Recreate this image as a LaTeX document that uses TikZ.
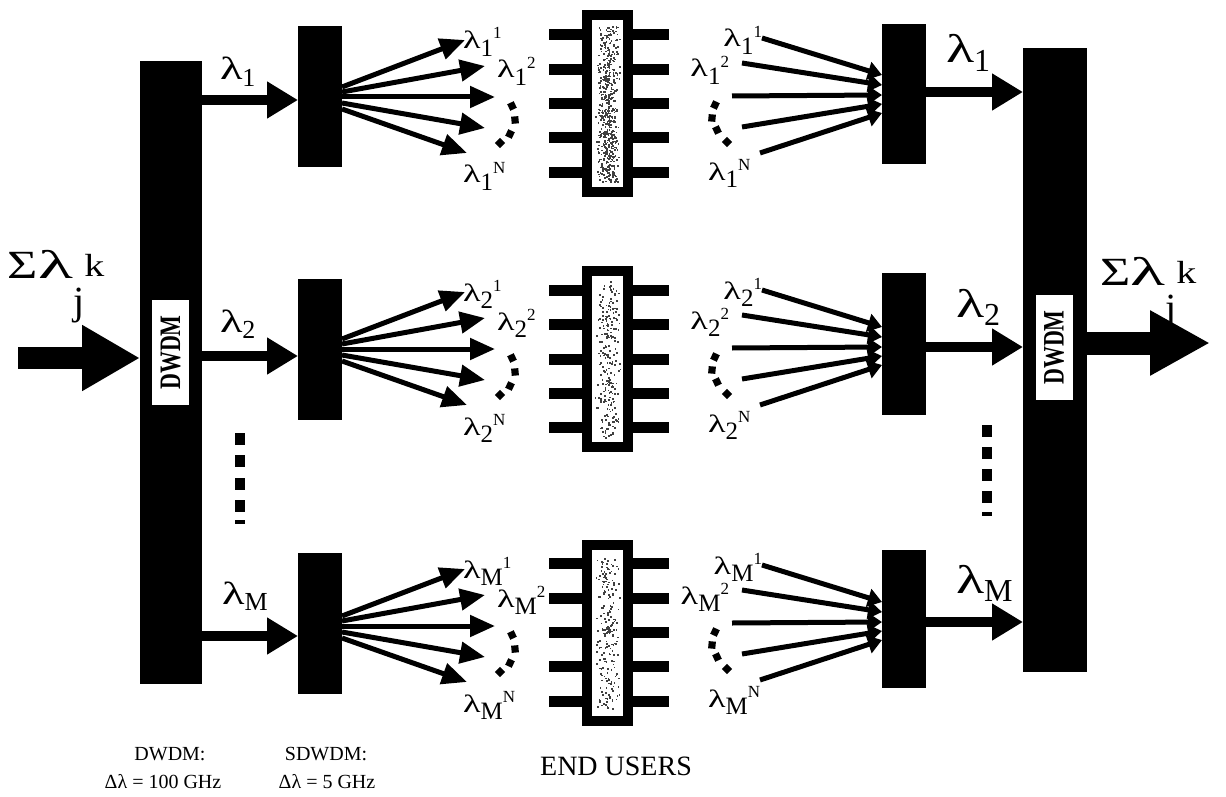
\documentclass[tikz,border=0pt]{standalone}
\usepackage{fontspec}
\setmainfont{Liberation Serif}
\usetikzlibrary{arrows.meta,calc}
\newcommand{\lam}{\scalebox{1.45}[1]{λ}}
\newcommand{\fanlab}[2]{\fontsize{12.5}{12.5}\selectfont \lam\raisebox{-0.3em}{#1}\raisebox{0.4em}{\fontsize{8.5}{8.5}\selectfont #2}}
\newcommand{\llab}[1]{\fontsize{16}{16}\selectfont \lam\raisebox{-0.2em}{\fontsize{13}{13}\selectfont #1}}
\newcommand{\rlab}[1]{\fontsize{20}{20}\selectfont \lam\raisebox{-0.22em}{\fontsize{16}{16}\selectfont #1}}
\newcommand{\sumlab}{\fontsize{20}{20}\selectfont \scalebox{1.3}[1]{Σ}\scalebox{1.8}[1]{λ}\raisebox{-0.9em}{j}\raisebox{0.05em}{\fontsize{16}{16}\selectfont\scalebox{1.25}[1]{k}}}
\tikzset{
 blackbox/.style={fill=black,inner sep=0pt,outer sep=0pt},
 whitebox/.style={fill=white,inner sep=0pt,outer sep=0pt,minimum width=18.5pt,minimum height=52.5pt},
 sdw/.style={blackbox,minimum width=22pt,minimum height=70.5pt},
 chipbox/.style={draw=black,line width=5pt,fill=white,inner sep=0pt,minimum width=20.5pt,minimum height=88pt},
 pin/.style={line width=5.5pt},
 bigarrow/.style={line width=11pt,-{Triangle[length=29pt,width=31pt]}},
 midarrow/.style={line width=5pt,-{Triangle[length=15.5pt,width=17.5pt]}},
 fanarrow/.style={line width=2.5pt,-{Triangle[length=12.5pt,width=10.5pt]}},
 inline/.style={line width=2.5pt,-{Triangle[length=7pt,width=9pt]}},
 lab/.style={inner sep=0pt,outer sep=0pt},
 dwdmtxt/.style={rotate=90,inner sep=0pt,font=\bfseries\fontsize{11}{11}\selectfont},
}
\begin{document}
\begin{tikzpicture}[x=0.5pt,y=-0.5pt]
\useasboundingbox (0,0) rectangle (1226,797);
% DWDM bars
\node[blackbox,minimum width=31pt,minimum height=311.5pt] (lbar) at (171,372.5) {};
\node[whitebox] (lbox) at (170.5,352.5) {};
\node[dwdmtxt] (ltxt) at (lbox) {\scalebox{1}[1.35]{DWDM}};
\node[blackbox,minimum width=32pt,minimum height=312pt] (rbar) at (1055,360) {};
\node[whitebox] (rbox) at (1054,347.5) {};
\node[dwdmtxt] (rtxt) at (rbox) {\scalebox{1}[1.35]{DWDM}};
% SDWDM blocks
\node[sdw] (b1) at (320,96.5) {};
\node[sdw] (b2) at (320,349.5) {};
\node[sdw] (b3) at (320,623.5) {};
\node[sdw,minimum height=70pt] (r1) at (904,94) {};
\node[sdw,minimum height=71pt] (r2) at (904,344) {};
\node[sdw,minimum height=69pt] (r3) at (904,619) {};
% chips
\node[chipbox] (c1) at (607.5,103.5) {};
\node[chipbox] (c2) at (607.5,359) {};
\node[chipbox] (c3) at (607.5,632.5) {};
\foreach \c in {c1,c2,c3}{
  \foreach \k in {-2,...,2}{
    \draw[pin] (\c.west) ++(0,\k*34.3) -- ++(-33,0);
    \draw[pin] (\c.east) ++(0,\k*34.3) -- ++(36,0);
  }
}
\pgfmathsetseed{7}
\foreach \cx/\cy/\h/\n in {607.5/103.5/78/520, 607.5/359/78/230, 607.5/632.5/76/210}{
  \foreach \i in {1,...,\n}{
    \pgfmathsetmacro\spx{\cx+6.5*(rand+rand)}
    \pgfmathsetmacro\spy{\cy+\h*rand}
    \fill[black!75] (\spx,\spy) rectangle ++(1.7,1.7);
  }
}
% input / output
\coordinate (inS) at (18,358);
\draw[bigarrow] (inS) -- (lbar.west |- inS);
\coordinate (outE) at (1210,343);
\draw[bigarrow,line width=11.5pt,-{Triangle[length=30pt,width=30.5pt]}] (rbar.east |- outE) -- (outE);
\node[lab,anchor=base west] (suml) at (8,278) {\sumlab};
\node[lab,anchor=base west] (sumr) at (1100,285) {\sumlab};
% left rows
\foreach \r/\c/\a/\s in {1/99/100/1, 2/351/356/2, 3/628/636/M}{
  \coordinate (lin\r) at (0,\a);
  \draw[midarrow] (lbar.east |- lin\r) -- (b\r.west |- lin\r);
  \foreach \k/\sy/\tx/\ty in {1/-12/465/-59, 2/-7/485/-33, 3/-2/495/-2, 4/4/485/29, 5/10/467/54}{
    \coordinate (ls\r\k) at (342,\c+\sy);
    \coordinate (lt\r\k) at (\tx,\c+\ty);
    \draw[fanarrow] (ls\r\k) -- (lt\r\k);
  }
  \foreach \dx/\dy/\rot in {512/7/25, 515/21/5, 510/35/-25, 500/44/-45}{
    \fill[shift={(\dx,\c+\dy)},rotate=\rot] (-3.6,-3.6) rectangle (3.6,3.6);
  }
  \node[lab,anchor=base west] (lfa\r) at (463,\c-50) {\fanlab{\s}{1}};
  \node[lab,anchor=base west] (lfb\r) at (497,\c-21) {\fanlab{\s}{2}};
  \node[lab,anchor=base west] (lfc\r) at (463,\c+84) {\fanlab{\s}{N}};
}
\node[lab,anchor=base west] (ll1) at (220,80) {\llab{1}};
\node[lab,anchor=base west] (ll2) at (220,332) {\llab{2}};
\node[lab,anchor=base west] (ll3) at (222,604) {\llab{M}};
% right rows
\foreach \r/\c/\a/\s in {1/93/92/1, 2/345/347/2, 3/620/622/M}{
  \coordinate (rout\r) at (0,\a);
  \draw[midarrow] (r\r.east |- rout\r) -- (rbar.west |- rout\r);
  \foreach \k/\sx/\sy/\ey in {1/762/-55/-18, 2/742/-30/-8, 3/732/3/2, 4/742/34/11, 5/760/60/20}{
    \coordinate (rs\r\k) at (\sx,\c+\sy);
    \coordinate (re\r\k) at (882,\c+\ey);
    \draw[inline] (rs\r\k) -- (re\r\k);
  }
  \foreach \dx/\dy/\rot in {715/12/-25, 712/25/-5, 717/37/25, 727/49/45}{
    \fill[shift={(\dx,\c+\dy)},rotate=\rot] (-3.6,-3.6) rectangle (3.6,3.6);
  }
  \node[lab,anchor=base east] (rfa\r) at (762,\c-46) {\fanlab{\s}{1}};
  \node[lab,anchor=base east] (rfb\r) at (729,\c-16) {\fanlab{\s}{2}};
  \node[lab,anchor=base west] (rfc\r) at (708,\c+87) {\fanlab{\s}{N}};
}
\node[lab,anchor=base west] (rl1) at (946,63) {\rlab{1}};
\node[lab,anchor=base west] (rl2) at (956,317) {\rlab{2}};
\node[lab,anchor=base west] (rl3) at (956,593) {\rlab{M}};
% vertical dots
\foreach \y in {439,461,484,506}{\fill (235,\y-6) rectangle (245,\y+6);}
\fill (235,520) rectangle (245,524);
\foreach \y in {431,453,475,497}{\fill (982,\y-6) rectangle (992,\y+6);}
\fill (982,512) rectangle (992,516);
% bottom texts
\node[lab,anchor=base,font=\fontsize{10}{10}\selectfont] (t1) at (170,760) {DWDM:};
\node[lab,anchor=base,font=\fontsize{10}{10}\selectfont] (t2) at (163,788) {Δλ = 100 GHz};
\node[lab,anchor=base,font=\fontsize{10}{10}\selectfont] (t3) at (326,760) {SDWDM:};
\node[lab,anchor=base,font=\fontsize{10}{10}\selectfont] (t4) at (327,788) {Δλ = 5 GHz};
\node[lab,anchor=base,font=\fontsize{14}{14}\selectfont] (t5) at (616,775) {END USERS};
\end{tikzpicture}
\end{document}
